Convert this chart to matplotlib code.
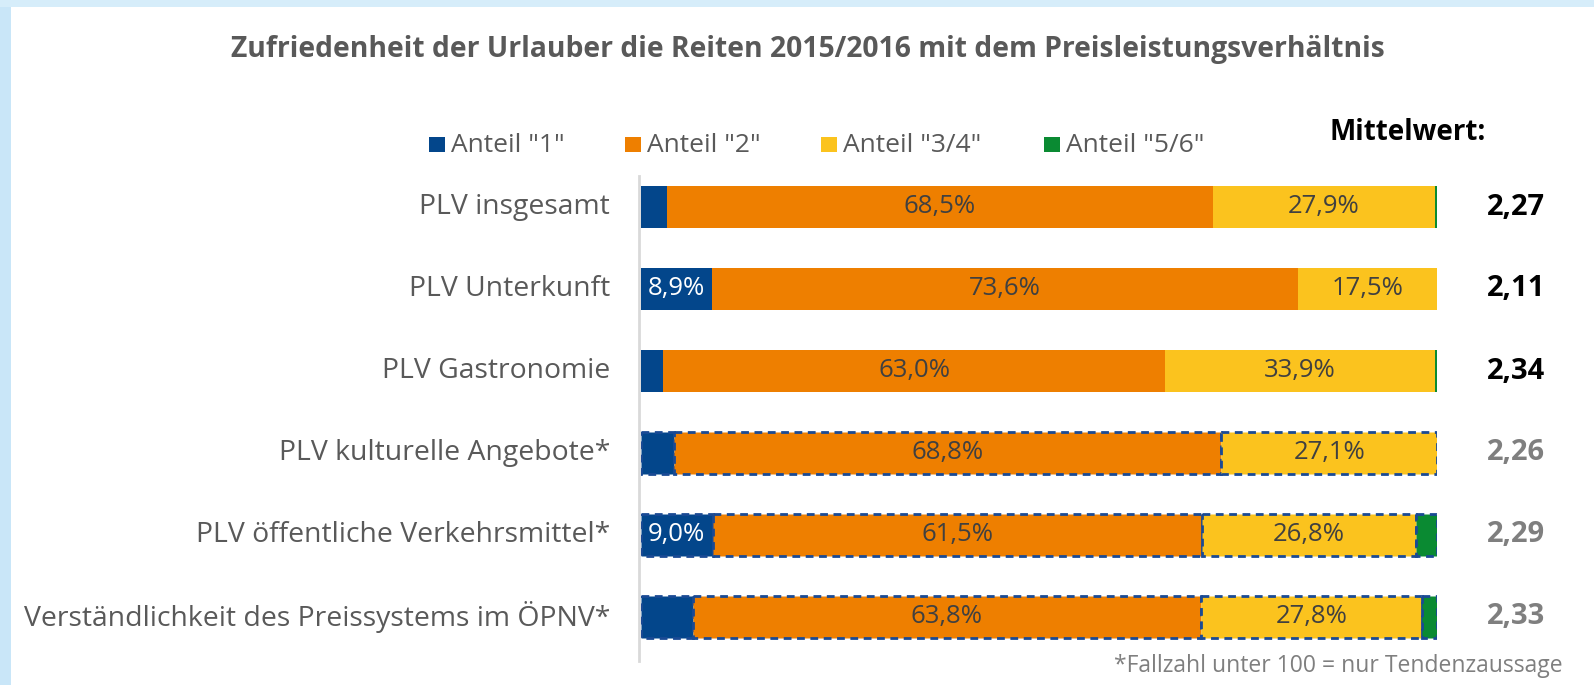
import matplotlib
matplotlib.use("Agg")
import matplotlib.pyplot as plt
from matplotlib.patches import Rectangle
from matplotlib.lines import Line2D
import numpy as np

plt.rcParams['font.family'] = ['Open Sans', 'DejaVu Sans']

# --- data ---
categories = ["PLV insgesamt", "PLV Unterkunft", "PLV Gastronomie",
              "PLV kulturelle Angebote*", "PLV öffentliche Verkehrsmittel*",
              "Verständlichkeit des Preissystems im ÖPNV*"]
share_1 = [3.3, 8.9, 2.8, 4.1, 9.0, 6.5]
share_2 = [68.5, 73.6, 63.0, 68.8, 61.5, 63.8]
share_34 = [27.9, 17.5, 33.9, 27.1, 26.8, 27.8]
share_56 = [0.3, 0.0, 0.3, 0.0, 2.7, 1.9]
means = ["2,27", "2,11", "2,34", "2,26", "2,29", "2,33"]
tendency = [False, False, False, True, True, True]   # Fallzahl unter 100
series_names = ['Anteil "1"', 'Anteil "2"', 'Anteil "3/4"', 'Anteil "5/6"']
series_colors = ['#03468B', '#EE7F00', '#FBC31E', '#0A8A32']

W, H = 1594, 685
fig = plt.figure(figsize=(W / 100, H / 100), dpi=100)
fig.patch.set_facecolor('white')

def fx(px):
    return px / W

def fy(py):
    return 1 - py / H

# light blue frame left / top
fig.add_artist(Rectangle((0, 0), fx(11), 1, transform=fig.transFigure,
                         facecolor='#C9E6F8', edgecolor='none'))
fig.add_artist(Rectangle((0, fy(7)), 1, 1 - fy(7), transform=fig.transFigure,
                         facecolor='#D6EDFA', edgecolor='none'))

ax = fig.add_axes([fx(641), fy(658), fx(1437 - 641), (658 - 166) / H])
ax.set_xlim(0, 100)
ax.set_ylim(len(categories) - 0.5, -0.5)
ax.axis('off')

y = np.arange(len(categories))
series = [share_1, share_2, share_34, share_56]
left = np.zeros(len(categories))
for s, (vals, col) in enumerate(zip(series, series_colors)):
    vals = np.array(vals)
    for i in range(len(categories)):
        if vals[i] <= 0:
            continue
        if tendency[i]:
            ax.barh(y[i], vals[i], left=left[i], height=0.52, color=col,
                    edgecolor='#1A4A94', linestyle=(0, (2.8, 2)), linewidth=2)
        else:
            ax.barh(y[i], vals[i], left=left[i], height=0.52, color=col,
                    edgecolor='none')
        cx = left[i] + vals[i] / 2
        txt = f"{vals[i]:.1f}%".replace('.', ',')
        if s == 0 and vals[i] > 7:
            ax.text(cx, y[i], txt, ha='center', va='center', color='white',
                    fontsize=18.5)
        elif s in (1, 2):
            ax.text(cx, y[i], txt, ha='center', va='center', color='#404040',
                    fontsize=18.5)
    left += vals

# category labels and mean values
for i, cat in enumerate(categories):
    ypx = 207 + 82 * i
    fig.text(fx(610), fy(ypx), cat, ha='right', va='center', fontsize=20.4,
             color='#595959')
    fig.text(fx(1516), fy(ypx), means[i], ha='center', va='center',
             fontsize=21, fontweight='bold',
             color='#7F7F7F' if tendency[i] else 'black')

# vertical axis line
fig.add_artist(Line2D([fx(639), fx(639)], [fy(176), fy(661)],
                      transform=fig.transFigure, color='#D9D9D9', linewidth=2))

# legend
leg_x = [429, 625, 821, 1044]
for xs, name, col in zip(leg_x, series_names, series_colors):
    fig.add_artist(Rectangle((fx(xs), fy(152)), fx(16), 15 / H,
                             transform=fig.transFigure, facecolor=col,
                             edgecolor='none'))
    fig.text(fx(xs + 22), fy(145), name, ha='left', va='center',
             fontsize=19, color='#595959')
fig.text(fx(1408), fy(132), "Mittelwert:", ha='center', va='center',
         fontsize=20, fontweight='bold', color='black')

fig.text(fx(808), fy(50), "Zufriedenheit der Urlauber die Reiten 2015/2016 mit dem Preisleistungsverhältnis",
         ha='center', va='center', fontsize=20.3, fontweight='bold', color='#595959')
fig.text(fx(1563), fy(666), "*Fallzahl unter 100 = nur Tendenzaussage",
         ha='right', va='center', fontsize=16.5, color='#7F7F7F')

fig.savefig("out.png", dpi=100)
